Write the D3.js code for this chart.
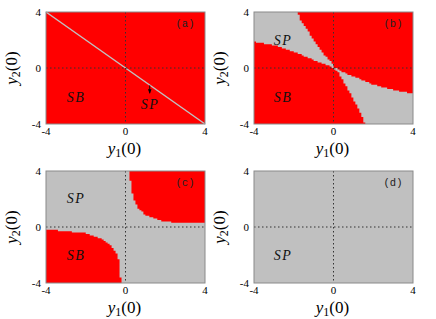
<!DOCTYPE html>
<html><head><meta charset="utf-8">
<script src="https://cdn.jsdelivr.net/npm/d3@7"></script>
<style>body{margin:0;background:#fff}svg{display:block}</style>
</head><body>
<svg id="c" width="436" height="319"></svg>
<script>
// ---- data ----
const tickValues = [-4, 0, 4];
const panelLabels = ["(a)", "(b)", "(c)", "(d)"];
const baseRegion = ["SB", "SP", "SP", "SP"];
// boundaries of SB (red) regions, [y1(0), y2(0)]
const bLowerSB = [[-4,1.88],[-3,1.62],[-2,1.16],[-1.5,0.88],[-1,0.57],[-0.5,0.28],[0,0.02],[0.28,-0.38],[0.6,-1.2],[0.86,-1.81],[1.1,-2.5],[1.28,-3.0],[1.45,-3.5],[1.57,-4]];
const bUpperSB = [[-1.82,4],[-1.65,3.43],[-1.3,2.71],[-1.01,2.0],[-0.64,1.29],[-0.39,0.81],[-0.06,0.33],[0,0.06],[0.5,-0.3],[1.03,-0.62],[2.04,-1.21],[3.04,-1.57],[4,-1.82]];
const cUpperSB = [[0.16,4],[0.31,2.79],[0.39,2.07],[0.64,1.36],[0.98,0.88],[1.4,0.64],[1.82,0.45],[2.39,0.33],[3.2,0.3],[4,0.26]];
const cLowerSB = [[-4,-0.17],[-3.09,-0.29],[-2.09,-0.43],[-1.58,-0.64],[-1.08,-0.95],[-0.74,-1.31],[-0.49,-1.79],[-0.33,-2.38],[-0.26,-3.2],[-0.24,-4]];
const sbPolygons = [
  [],
  [[[-4,-4]].concat(bLowerSB), [[4,4]].concat(bUpperSB)],
  [[[4,4]].concat(cUpperSB), [[-4,-4]].concat(cLowerSB)],
  []
];
const regionText = [
  [["SB",-2.49,-2.05],["SP",1.23,-2.57]],
  [["SP",-2.54,2.0],["SB",-2.54,-2.05]],
  [["SP",-2.49,2.05],["SB",-2.49,-2.0]],
  [["SP",-2.54,-2.0]]
];
const separatrixA = [[-4,4],[4,-4]];
const arrowA = [[1.22,-1.24],[1.22,-1.8]];
const gridN = 80;

// ---- layout ----
const colors = {SB:"#ff0000", SP:"#c0c0c0"};
const lefts = [46, 254], tops = [12, 171];
const W = 159, H = 112;
const svg = d3.select("#c");
const defs = svg.append("defs");
defs.append("marker").attr("id","arr").attr("viewBox","0 0 10 10").attr("refX",9).attr("refY",5)
  .attr("markerWidth",5).attr("markerHeight",5).attr("orient","auto")
  .append("path").attr("d","M0,1 L10,5 L0,9 Z").attr("fill","#000");

panelLabels.forEach((lab, k) => {
  const L = lefts[k % 2], T = tops[Math.floor(k / 2)];
  const x = d3.scaleLinear().domain([-4, 4]).range([L, L + W]);
  const y = d3.scaleLinear().domain([-4, 4]).range([T + H, T]);
  const g = svg.append("g");
  g.append("rect").attr("x", L).attr("y", T).attr("width", W).attr("height", H)
    .attr("fill", colors[baseRegion[k]]);
  // rasterized SB regions, merged into one path (no seams)
  const polys = sbPolygons[k];
  if (polys.length) {
    const step = 8 / gridN;
    const path = d3.path();
    for (let j = 0; j < gridN; j++) {
      const yc = 4 - (j + 0.5) * step;
      let start = null;
      for (let i = 0; i <= gridN; i++) {
        const xc = -4 + (i + 0.5) * step;
        const inside = i < gridN && polys.some(p => d3.polygonContains(p, [xc, yc]));
        if (inside && start === null) start = i;
        if (!inside && start !== null) {
          const x0 = x(-4 + start * step), x1 = x(-4 + i * step);
          const y0 = y(4 - j * step), y1 = y(4 - (j + 1) * step);
          path.rect(x0, y0, x1 - x0, y1 - y0);
          start = null;
        }
      }
    }
    g.append("path").attr("d", path.toString()).attr("fill", colors.SB);
  }
  if (k === 0) {
    g.append("line").attr("x1", x(separatrixA[0][0])).attr("y1", y(separatrixA[0][1]))
      .attr("x2", x(separatrixA[1][0])).attr("y2", y(separatrixA[1][1]))
      .attr("stroke", "#c0c0c0").attr("stroke-width", 1.5);
    g.append("line").attr("x1", x(arrowA[0][0])).attr("y1", y(arrowA[0][1]))
      .attr("x2", x(arrowA[1][0])).attr("y2", y(arrowA[1][1]))
      .attr("stroke", "#000").attr("stroke-width", 0.9).attr("marker-end", "url(#arr)");
  }
  // dotted zero lines
  g.append("line").attr("x1", x(0)).attr("x2", x(0)).attr("y1", T).attr("y2", T + H)
    .attr("stroke", "#333").attr("stroke-width", 1).attr("stroke-dasharray", "1.5,2.5");
  g.append("line").attr("x1", L).attr("x2", L + W).attr("y1", y(0)).attr("y2", y(0))
    .attr("stroke", "#333").attr("stroke-width", 1).attr("stroke-dasharray", "1.5,2.5");
  // frame
  g.append("rect").attr("x", L).attr("y", T).attr("width", W).attr("height", H)
    .attr("fill", "none").attr("stroke", "#8a8a8a").attr("stroke-width", 1);
  // ticks
  tickValues.forEach(t => {
    g.append("text").attr("x", x(t)).attr("y", T + H + 11).attr("text-anchor", "middle")
      .attr("font-family", "Liberation Serif").attr("font-size", 11).text(t);
    g.append("text").attr("x", L - 5).attr("y", y(t) + 4).attr("text-anchor", "end")
      .attr("font-family", "Liberation Serif").attr("font-size", 11).text(t);
  });
  // axis labels
  const xl = g.append("text").attr("x", x(0) - 1).attr("y", T + H + 30).attr("text-anchor", "middle")
    .attr("font-family", "Liberation Serif").attr("font-size", 17);
  xl.append("tspan").attr("font-style", "italic").text("y");
  xl.append("tspan").attr("font-size", 12).attr("dy", 3).text("1");
  xl.append("tspan").attr("dy", -3).text("(0)");
  const yl = g.append("text").attr("transform", `translate(${L - 29},${y(0)}) rotate(-90)`)
    .attr("text-anchor", "middle").attr("font-family", "Liberation Serif").attr("font-size", 17);
  yl.append("tspan").attr("font-style", "italic").text("y");
  yl.append("tspan").attr("font-size", 12).attr("dy", 3).text("2");
  yl.append("tspan").attr("dy", -3).text("(0)");
  // panel label
  g.append("text").attr("x", L + W - 20).attr("y", T + 15).attr("text-anchor", "middle")
    .attr("font-family", "Liberation Mono").attr("font-size", 10.5).attr("fill", "#222").text(lab);
  // region labels
  regionText[k].forEach(([s, a, b]) => {
    g.append("text").attr("x", x(a)).attr("y", y(b) + 5).attr("text-anchor", "middle")
      .attr("font-family", "Liberation Serif").attr("font-style", "italic")
      .attr("font-size", 14).attr("letter-spacing", 1.5).attr("fill", "#111").text(s);
  });
});
</script>
</body></html>
